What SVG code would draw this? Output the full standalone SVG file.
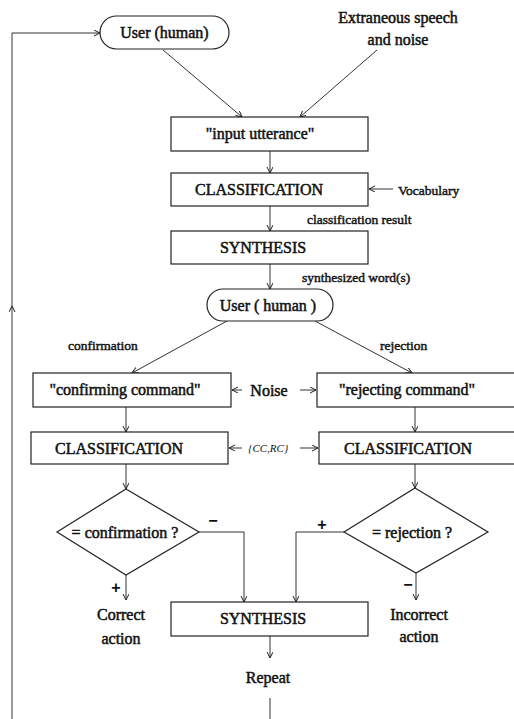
<svg xmlns="http://www.w3.org/2000/svg" width="514" height="719" viewBox="0 0 514 719">
<defs>
<marker id="ah" markerWidth="7" markerHeight="7" refX="6" refY="3" orient="auto" markerUnits="userSpaceOnUse">
<path d="M0,0 L6,3 L0,6" fill="none" stroke="#222" stroke-width="1"/>
</marker>
<style>
.box{fill:#fff;stroke:#222;stroke-width:1.2}
.ln{fill:none;stroke:#333;stroke-width:1}
.arr{fill:none;stroke:#333;stroke-width:1;marker-end:url(#ah)}
.t{font-family:"Liberation Serif","Times New Roman",serif;font-size:16px;fill:#111;text-anchor:middle;stroke:#111;stroke-width:0.5}
.s{font-family:"Liberation Serif","Times New Roman",serif;font-size:13.5px;fill:#111;stroke:#111;stroke-width:0.45}
.i{font-family:"Liberation Serif","Times New Roman",serif;font-size:11px;font-style:italic;fill:#111}
.sg{font-family:"Liberation Sans",Arial,sans-serif;font-size:16px;font-weight:bold;fill:#111;text-anchor:middle}
</style>
</defs>
<rect width="514" height="719" fill="#fff"/>

<g id="connectors">
<line class="arr" x1="163" y1="50" x2="242" y2="117"/>
<line class="arr" x1="377" y1="50" x2="300" y2="117"/>
<line class="arr" x1="270" y1="151" x2="270" y2="173"/>
<line class="arr" x1="393" y1="189" x2="369" y2="189"/>
<line class="arr" x1="270" y1="206" x2="270" y2="231"/>
<line class="arr" x1="270" y1="264" x2="270" y2="289"/>
<line class="arr" x1="227" y1="321" x2="132" y2="373"/>
<line class="arr" x1="315" y1="321" x2="412" y2="373"/>
<line class="arr" x1="242" y1="390" x2="232" y2="390"/>
<line class="arr" x1="300" y1="390" x2="316" y2="390"/>
<line class="arr" x1="126" y1="407" x2="126" y2="432"/>
<line class="arr" x1="415" y1="407" x2="415" y2="432"/>
<line class="arr" x1="242" y1="448" x2="229" y2="448"/>
<line class="arr" x1="300" y1="448" x2="318" y2="448"/>
<line class="arr" x1="126" y1="464" x2="126" y2="489"/>
<line class="arr" x1="415" y1="464" x2="415" y2="488"/>
<polyline class="arr" points="199,532 244,532 244,602"/>
<polyline class="arr" points="344,532 296,532 296,602"/>
<line class="arr" x1="126" y1="575" x2="126" y2="600"/>
<line class="arr" x1="416" y1="573" x2="416" y2="600"/>
<line class="arr" x1="270" y1="636" x2="270" y2="658"/>
<line class="ln" x1="270" y1="698" x2="270" y2="719"/>
<line class="arr" x1="12" y1="719" x2="12" y2="306"/>
<polyline class="arr" points="12,306 12,33 100,33"/>
</g>

<g id="user1">
<rect class="box" x="100" y="16" width="129" height="33" rx="16.5"/>
<text class="t" x="164.5" y="38">User  (human)</text>
</g>
<g id="noise-src">
<text class="t" x="398" y="23">Extraneous speech</text>
<text class="t" x="398" y="45">and noise</text>
</g>
<g id="input">
<rect class="box" x="171" y="117" width="197" height="34"/>
<text class="t" x="260" y="139">"input utterance"</text>
</g>
<g id="class1">
<rect class="box" x="171" y="173" width="197" height="33"/>
<text class="t" x="259" y="195">CLASSIFICATION</text>
<text class="s" x="398" y="195">Vocabulary</text>
<text class="s" x="307" y="224">classification result</text>
</g>
<g id="synth1">
<rect class="box" x="171" y="231" width="197" height="33"/>
<text class="t" x="263" y="253">SYNTHESIS</text>
<text class="s" x="302" y="282">synthesized word(s)</text>
</g>
<g id="user2">
<rect class="box" x="207" y="289" width="126" height="32" rx="16"/>
<text class="t" x="268" y="311">User ( human )</text>
<text class="s" x="68" y="350">confirmation</text>
<text class="s" x="380" y="350">rejection</text>
</g>
<g id="confirm">
<rect class="box" x="33" y="373" width="198" height="34"/>
<text class="t" x="125" y="395">"confirming command"</text>
</g>
<g id="noise2">
<text class="t" x="269" y="396">Noise</text>
</g>
<g id="reject">
<rect class="box" x="317" y="373" width="205" height="34"/>
<text class="t" x="407" y="395">"rejecting command"</text>
</g>
<g id="class-l">
<rect class="box" x="31" y="432" width="197" height="32"/>
<text class="t" x="119" y="454">CLASSIFICATION</text>
</g>
<g id="ccrc">
<text class="i" x="248" y="452">{CC,RC}</text>
</g>
<g id="class-r">
<rect class="box" x="319" y="432" width="205" height="32"/>
<text class="t" x="408" y="454">CLASSIFICATION</text>
</g>
<g id="dia-l">
<polygon class="box" points="126,489 199,532 126,575 57,532"/>
<text class="t" x="125" y="538">= confirmation ?</text>
<text class="sg" x="213" y="526">−</text>
<text class="sg" x="116" y="593">+</text>
</g>
<g id="dia-r">
<polygon class="box" points="415,488 488,532 416,573 344,532"/>
<text class="t" x="412" y="538">= rejection ?</text>
<text class="sg" x="322" y="530">+</text>
<text class="sg" x="408" y="590">−</text>
</g>
<g id="correct">
<text class="t" x="121" y="620">Correct</text>
<text class="t" x="121" y="644">action</text>
</g>
<g id="synth2">
<rect class="box" x="171" y="602" width="197" height="34"/>
<text class="t" x="263" y="624">SYNTHESIS</text>
</g>
<g id="incorrect">
<text class="t" x="419" y="620">Incorrect</text>
<text class="t" x="419" y="642">action</text>
</g>
<g id="repeat">
<text class="t" x="268" y="683">Repeat</text>
</g>
</svg>
